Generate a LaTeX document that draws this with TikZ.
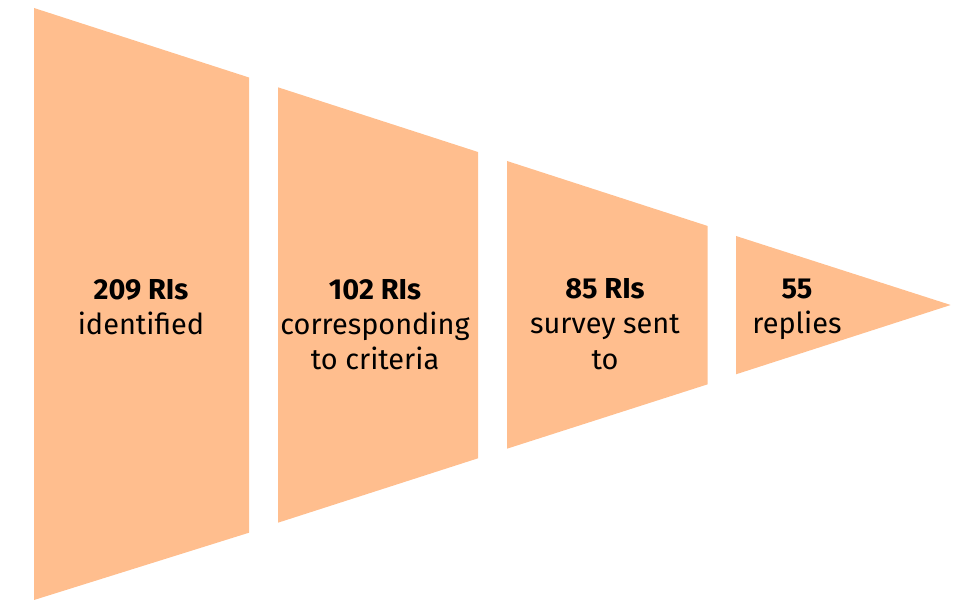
\documentclass[tikz,border=0pt]{standalone}
\usepackage{fontspec}
\setmainfont{Fira Sans}
\definecolor{peach}{RGB}{255,190,142}
\begin{document}
\begin{tikzpicture}[x=1bp,y=-1bp,
  seg/.style={fill=peach,draw=none},
  lbl/.style={anchor=base,inner sep=0pt,font=\fontsize{29}{35}\selectfont},
  hd/.style={lbl,font=\fontsize{29}{35}\selectfont\bfseries}]
\useasboundingbox (0,0) rectangle (963,600);
\fill[seg] (34,8) -- (249,77.5) -- (249,532.7) -- (34,600) -- cycle;
\fill[seg] (278,87.3) -- (478,152) -- (478,458.3) -- (278,522.7) -- cycle;
\fill[seg] (507,161) -- (707.7,226) -- (707.7,384.3) -- (507,448.7) -- cycle;
\fill[seg] (736,236) -- (950.7,305) -- (736,374.3) -- cycle;
\node[hd] (a1) at (141,299) {209 RIs};
\node[lbl] (a2) at (141,334) {identified};
\node[hd] (b1) at (375,299) {102 RIs};
\node[lbl] (b2) at (375,334) {corresponding};
\node[lbl] (b3) at (375,369) {to criteria};
\node[hd] (c1) at (605,298) {85 RIs};
\node[lbl] (c2) at (605,333) {survey sent};
\node[lbl] (c3) at (605,369) {to};
\node[hd] (d1) at (797,298) {55};
\node[lbl] (d2) at (797,333) {replies};
\end{tikzpicture}
\end{document}
